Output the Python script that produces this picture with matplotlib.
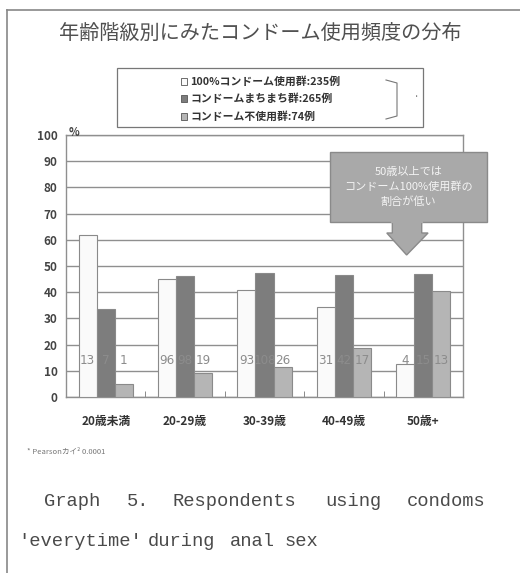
import matplotlib
matplotlib.use("Agg")
import matplotlib.pyplot as plt
from matplotlib.patches import Rectangle, Polygon
from matplotlib.lines import Line2D

plt.rcParams['font.family'] = ['Noto Sans CJK JP', 'DejaVu Sans']

# data
age_groups = ['20歳未満', '20-29歳', '30-39歳', '40-49歳', '50歳+']
series_names = ['100%コンドーム使用群:235例', 'コンドームまちまち群:265例', 'コンドーム不使用群:74例']
pct_always = [62, 45, 41, 34.5, 12.5]
pct_sometimes = [33.5, 46, 47.3, 46.6, 47]
pct_never = [5, 9.2, 11.6, 18.8, 40.5]
n_always = [13, 96, 93, 31, 4]
n_sometimes = [7, 98, 108, 42, 15]
n_never = [1, 19, 26, 17, 13]
y_ticks = list(range(0, 101, 10))

W, H = 520, 573
fig = plt.figure(figsize=(W / 100, H / 100), dpi=100)
fig.patch.set_facecolor('white')


def fx(px):
    return px / W


def fy(py):
    return 1 - py / H


# outer frame of the scanned figure
fig.add_artist(Line2D([fx(7), fx(7)], [fy(10), 0], color='#888888', lw=1.2))
fig.add_artist(Line2D([fx(7), 1], [fy(10), fy(10)], color='#888888', lw=1.2))

fig.text(0.5, fy(33), '年齢階級別にみたコンドーム使用頻度の分布', ha='center', va='center',
         fontsize=14.5, color='#505050')

# legend box
fig.add_artist(Rectangle((fx(117), fy(127)), fx(423) - fx(117), fy(68) - fy(127),
                         transform=fig.transFigure, facecolor='white', edgecolor='#777777', lw=0.9))
colors = ['#fafafa', '#7d7d7d', '#b5b5b5']
for i, (name, c) in enumerate(zip(series_names, colors)):
    yy = 81 + i * 17.5
    fig.add_artist(Rectangle((fx(181), fy(yy + 3.5)), fx(6), fy(0) - fy(7),
                             transform=fig.transFigure, facecolor=c, edgecolor='#555555', lw=0.6))
    fig.text(fx(190), fy(yy), name, ha='left', va='center', fontsize=7.8,
             fontweight='bold', color='#333333')
fig.add_artist(Line2D([fx(386), fx(397), fx(397), fx(386)], [fy(80), fy(83), fy(116), fy(119)],
                      color='#777777', lw=0.8))
fig.text(fx(417), fy(97), '·', ha='center', va='center', fontsize=7, color='#666666')

ax = fig.add_axes([fx(66), fy(397), fx(463) - fx(66), fy(135) - fy(397)])
x = list(range(len(age_groups)))
bw = 0.227
groups = [(pct_always, n_always), (pct_sometimes, n_sometimes), (pct_never, n_never)]
for k, ((vals, counts), c) in enumerate(zip(groups, colors)):
    pos = [xi + (k - 1) * bw for xi in x]
    ax.bar(pos, vals, width=bw, color=c, edgecolor='#8a8a8a', linewidth=0.8, zorder=3)
    for p, n in zip(pos, counts):
        ax.text(p, 14, str(n), ha='center', va='center', fontsize=9.5, fontstretch='condensed',
                color='#8c8c8c', zorder=5, family=['DejaVu Sans'])

ax.set_xlim(-0.5, 4.5)
ax.set_ylim(0, 100)
ax.set_yticks(y_ticks)
ax.set_yticklabels([str(t) for t in y_ticks], fontsize=8.5, color='#444444', fontweight='bold')
ax.yaxis.grid(True, color='#8f8f8f', lw=1, zorder=0)
ax.set_xticks(x)
ax.set_xticklabels(age_groups, fontsize=8.5, fontweight='bold', color='#333333')
ax.set_xticks([0.5, 1.5, 2.5, 3.5], minor=True)
ax.tick_params(axis='x', which='major', length=0, pad=13)
ax.tick_params(axis='x', which='minor', length=4, direction='in', color='#777777')
ax.tick_params(axis='y', length=0, pad=6)
for s in ax.spines.values():
    s.set_color('#8f8f8f')
    s.set_linewidth(1)
ax.text(-0.47, 101, '%', ha='left', va='center', fontsize=8, fontweight='bold', color='#444444')

# callout over the 50+ group
gx = x[4]
box = Rectangle((gx - 1.18, 66.8), 1.98, 26.7, facecolor='#a9a9a9', edgecolor='#8a8a8a',
                lw=1, zorder=6, clip_on=False)
ax.add_patch(box)
arrow = Polygon([(gx - 0.39, 66.9), (gx - 0.39, 62.6), (gx - 0.46, 62.6), (gx - 0.21, 54.2),
                 (gx + 0.06, 62.6), (gx - 0.02, 62.6), (gx - 0.02, 66.9)],
                closed=True, facecolor='#a9a9a9', edgecolor='#8a8a8a', lw=1, zorder=6, clip_on=False)
ax.add_patch(arrow)
ax.add_line(Line2D([gx - 0.39, gx - 0.02], [66.8, 66.8], color='#a9a9a9', lw=1.6, zorder=7))
ax.text(gx - 0.19, 80.2, '50歳以上では\nコンドーム100%使用群の\n割合が低い', ha='center', va='center',
        fontsize=8, color='#f4f4f4', linespacing=1.45, zorder=8)

fig.text(fx(27), fy(452), '* Pearsonカイ² 0.0001', ha='left', va='center', fontsize=5.5, color='#777777')

# caption, justified like the scan
cap1 = [('Graph', 44), ('5.', 127), ('Respondents', 172), ('using', 325), ('condoms', 407)]
cap2 = [("'everytime'", 18), ('during', 148), ('anal', 230), ('sex', 285)]
for words, yy in [(cap1, 502), (cap2, 542)]:
    for w, px in words:
        fig.text(fx(px), fy(yy), w, ha='left', va='center', fontsize=13.5, color='#4a4a4a',
                 family=['Liberation Mono', 'DejaVu Sans Mono'])

fig.savefig('out.png', dpi=100, facecolor='white')
